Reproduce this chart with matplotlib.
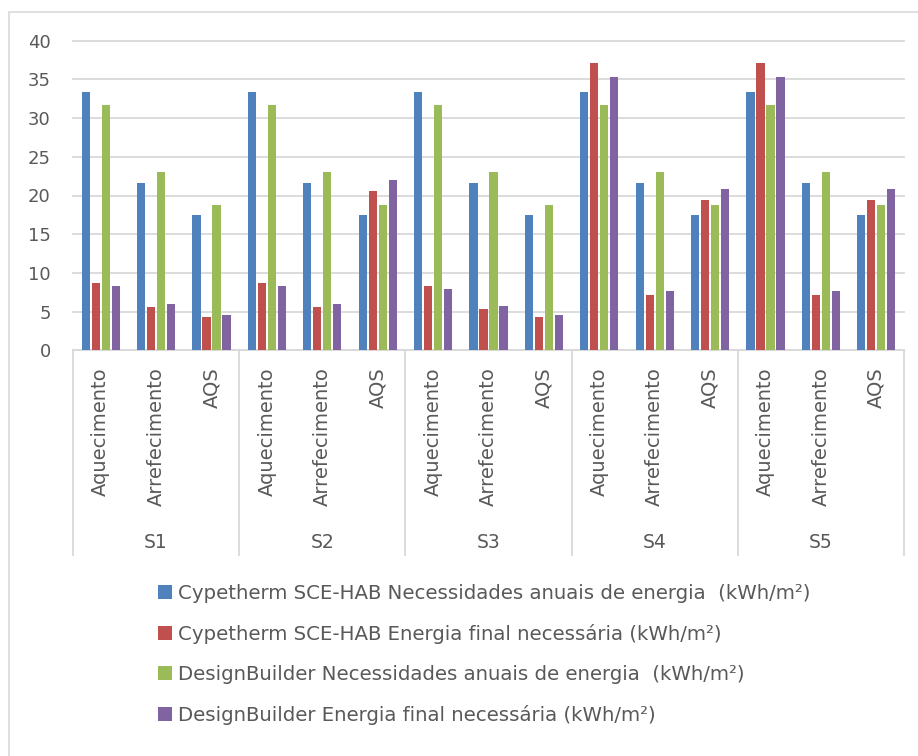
import matplotlib
matplotlib.use("Agg")
import matplotlib.pyplot as plt
import numpy as np
from matplotlib.patches import Rectangle, Patch

# data
groups = ["S1", "S2", "S3", "S4", "S5"]
uses = ["Aquecimento", "Arrefecimento", "AQS"]

cype_nec = [33.4, 21.6, 17.5, 33.4, 21.6, 17.5, 33.4, 21.6, 17.5, 33.4, 21.6, 17.5, 33.4, 21.6, 17.5]
cype_fin = [8.7, 5.6, 4.3, 8.7, 5.6, 20.6, 8.3, 5.3, 4.3, 37.1, 7.1, 19.4, 37.1, 7.1, 19.4]
db_nec = [31.7, 23.1, 18.75, 31.7, 23.1, 18.75, 31.7, 23.1, 18.75, 31.7, 23.1, 18.75, 31.7, 23.1, 18.75]
db_fin = [8.3, 6.0, 4.6, 8.3, 6.0, 22.0, 7.9, 5.7, 4.6, 35.3, 7.6, 20.8, 35.3, 7.6, 20.8]

labels = [
    "Cypetherm SCE-HAB Necessidades anuais de energia  (kWh/m²)",
    "Cypetherm SCE-HAB Energia final necessária (kWh/m²)",
    "DesignBuilder Necessidades anuais de energia  (kWh/m²)",
    "DesignBuilder Energia final necessária (kWh/m²)",
]
colors = ["#4F81BD", "#C0504D", "#9BBB59", "#8064A2"]
series = [cype_nec, cype_fin, db_nec, db_fin]

W, H = 918, 756
txt = "#595959"
grid = "#d9d9d9"
plt.rcParams["font.family"] = ["DejaVu Sans"]

fig = plt.figure(figsize=(W / 100, H / 100), dpi=100)

# outer chart border (runs off the right and bottom edges)
fig.patches.append(Rectangle((9 / W, -0.1), 1.2, 1 - 12 / H + 0.1, transform=fig.transFigure,
                             fill=False, edgecolor=grid, linewidth=1.2))

left, right = 73 / W, 904 / W
bottom, top = 1 - 350.3 / H, 1 - 40.7 / H
ax = fig.add_axes([left, bottom, right - left, top - bottom])

n = len(groups) * len(uses)
x = np.arange(n)
pitch = 0.1805
bw = 0.145
for i, (vals, c) in enumerate(zip(series, colors)):
    ax.bar(x + (i - 1.5) * pitch, vals, width=bw, color=c, zorder=3)

ax.set_xlim(-0.5, n - 0.5)
ax.set_ylim(0, 40)
ax.set_yticks(range(0, 41, 5))
ax.yaxis.grid(True, color=grid, linewidth=1.3, clip_on=False)
ax.set_axisbelow(True)
for s in ["left", "right", "top"]:
    ax.spines[s].set_visible(False)
ax.spines["bottom"].set_color(grid)
ax.spines["bottom"].set_linewidth(1.3)
ax.tick_params(axis="y", length=0, pad=16, labelsize=13, labelcolor=txt)
ax.tick_params(axis="x", length=0, labelbottom=False)

ax_h = 350.3 - 40.7
trans = ax.get_xaxis_transform()
# category labels
for k in range(n):
    ax.text(k, -(367 - 350.3) / ax_h, uses[k % 3], rotation=90, ha="center", va="top",
            fontsize=14, color=txt, transform=trans)
# group labels and separators
for g, name in enumerate(groups):
    ax.text(3 * g + 1, -(542 - 350.3) / ax_h, name, ha="center", va="center",
            fontsize=13.5, color=txt, transform=trans)
for b in range(len(groups) + 1):
    ax.plot([3 * b - 0.5, 3 * b - 0.5], [0, -(555 - 350.3) / ax_h], color=grid,
            linewidth=1.3, transform=trans, clip_on=False)

handles = [Patch(facecolor=c) for c in colors]
fig.legend(handles, labels, loc="upper left", bbox_to_anchor=(150 / W, 1 - 576 / H),
           frameon=False, fontsize=14.2, labelcolor=txt, handlelength=0.71,
           handleheight=0.71, handletextpad=0.3, labelspacing=1.07, borderaxespad=0)

fig.savefig("out.png", dpi=100)
